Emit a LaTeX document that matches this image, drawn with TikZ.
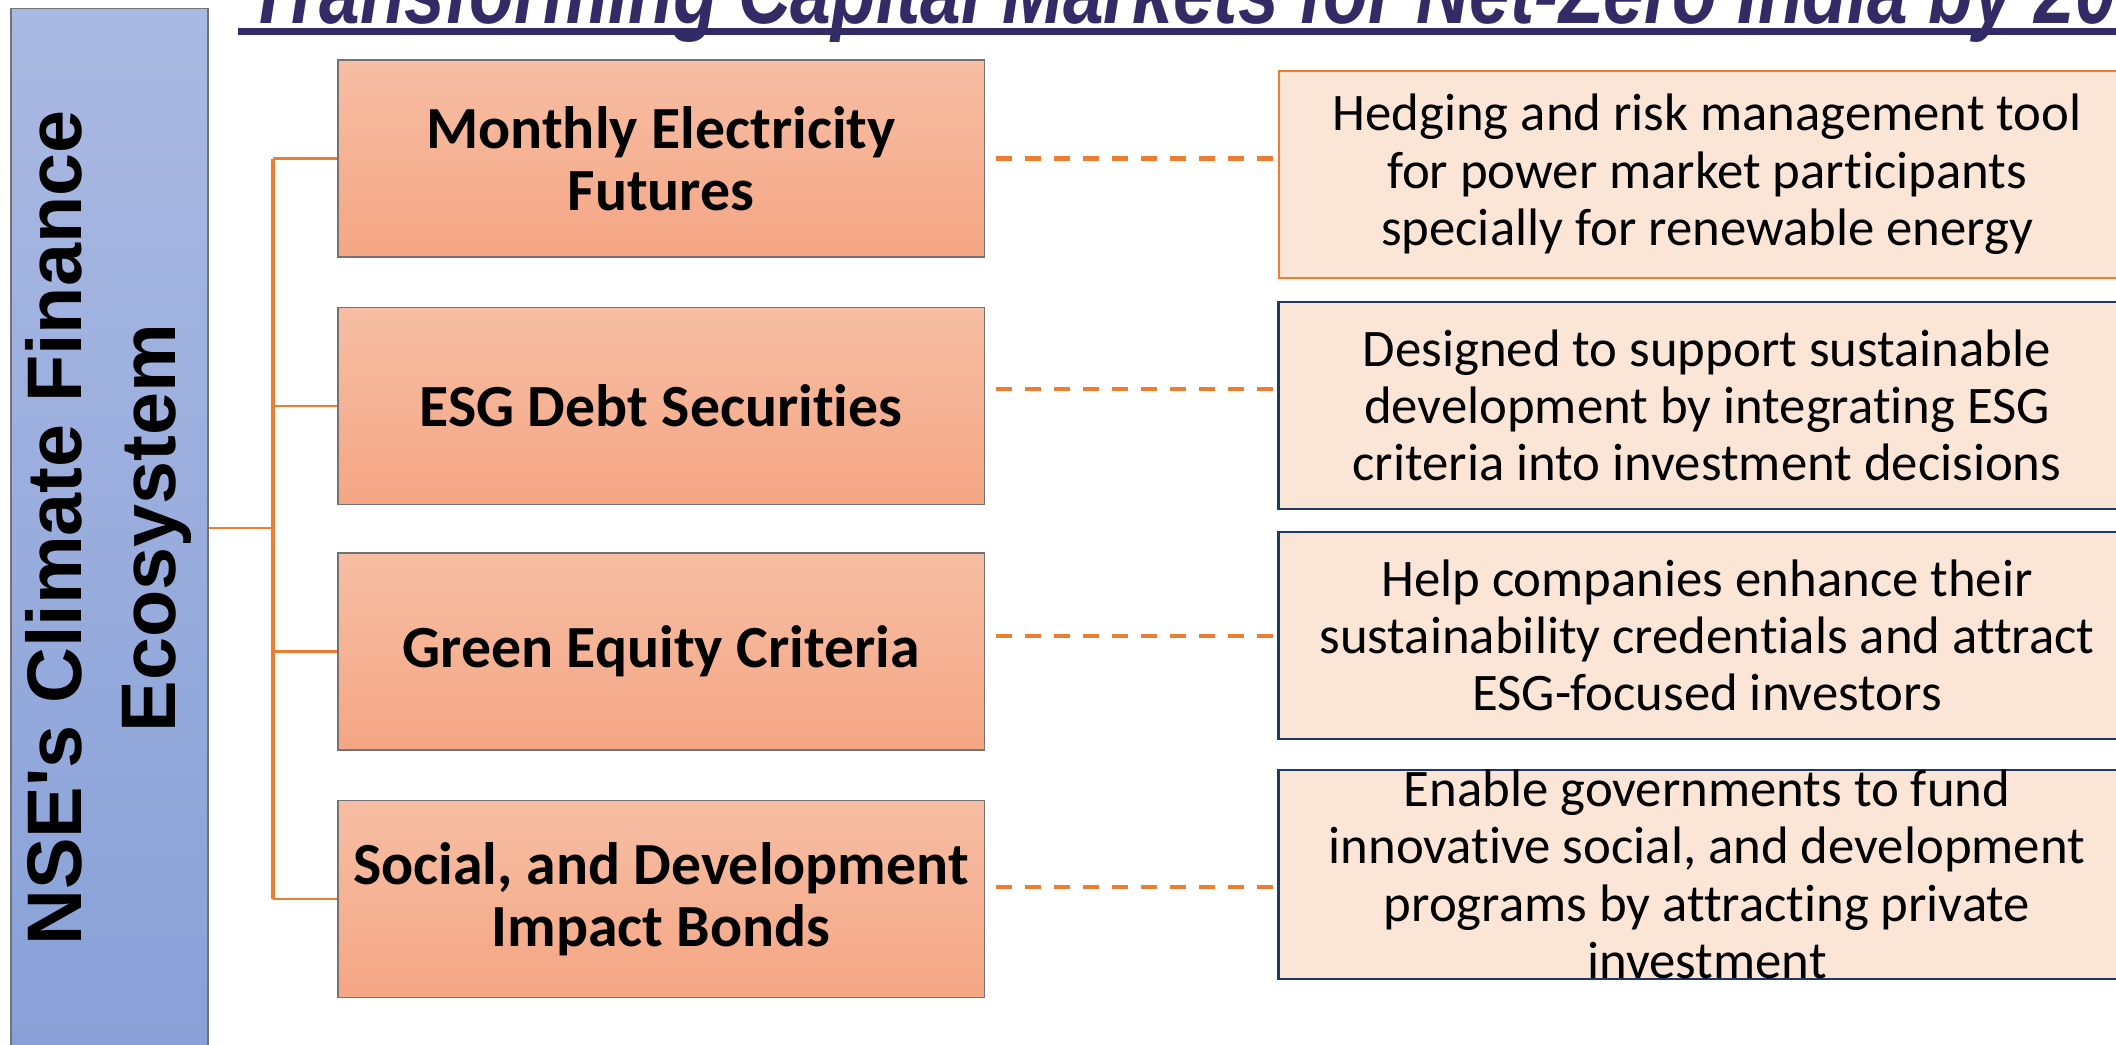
\documentclass[tikz,border=0pt]{standalone}
\usepackage{fontspec}
\usepackage{graphicx}
\setmainfont[RawFeature={-liga;-clig;-calt;-dlig}]{Carlito}
\newfontfamily\barfont{Liberation Sans}
\newfontfamily\titlefont[FakeStretch=0.8]{Liberation Sans}
\usetikzlibrary{calc}
\definecolor{linkorange}{RGB}{237,125,49}
\definecolor{boxnavy}{RGB}{31,56,100}
\definecolor{titlenavy}{RGB}{51,43,102}
\definecolor{notefill}{RGB}{251,229,214}
\definecolor{itemtop}{RGB}{246,190,164}
\definecolor{itembot}{RGB}{245,166,132}
\definecolor{bartop}{RGB}{170,185,226}
\definecolor{barbot}{RGB}{137,161,216}
\begin{document}
\begin{tikzpicture}[x=0.01cm,y=-0.01cm,
  item/.style={draw=gray!90!black,line width=0.4pt,top color=itemtop,bottom color=itembot,
    minimum width=6.46cm,minimum height=1.97cm,inner sep=0pt,align=center,
    font=\fontsize{17}{17.6}\selectfont\bfseries},
  note/.style={draw=boxnavy,line width=0.8pt,fill=notefill,
    minimum width=8.56cm,minimum height=2.07cm,inner sep=0pt,align=center,
    font=\fontsize{15}{16.3}\selectfont},
  link/.style={linkorange,line width=0.6pt},
  dashlink/.style={linkorange,line width=1.2pt,dash pattern=on 0.16cm off 0.13cm}]
\useasboundingbox (0,0) rectangle (2116,1044);
% title, cut by the top and right edge
\node[anchor=base west,inner sep=0pt,text=titlenavy,
  font=\titlefont\fontsize{26}{30}\selectfont\bfseries\itshape] (title) at (247,23)
  {Transforming Capital Markets for Net-Zero India by 2070};
\draw[titlenavy,line width=0.07cm] ([xshift=-0.09cm,yshift=-0.085cm]title.base west) -- ++(2000,0);
% left bar
\node[draw=gray!90!black,line width=0.4pt,top color=bartop,bottom color=barbot,
  minimum width=1.97cm,minimum height=10.38cm,inner sep=0pt] (eco) at (109.5,528)
  {\rotatebox{90}{\barfont\fontsize{22}{26.7}\selectfont\bfseries
   \begin{tabular}{@{}c@{}}NSE's Climate Finance\\Ecosystem\end{tabular}}};
% products
\node[item] (l1) at (661,158.5) {Monthly Electricity\\Futures};
\node[item] (l2) at (661,406) {ESG Debt Securities};
\node[item] (l3) at (661,651.5) {Green Equity Criteria};
\node[item] (l4) at (661,899) {Social, and Development\\Impact Bonds};
% descriptions
\node[note,draw=linkorange,line width=0.5pt] (r1) at (1707,174.5)
  {Hedging and risk management tool\\for power market participants\\specially for renewable energy};
\node[note] (r2) at (1707,405.5)
  {Designed to support sustainable\\development by integrating ESG\\criteria into investment decisions};
\node[note] (r3) at (1707,635.5)
  {Help companies enhance their\\sustainability credentials and attract\\ESG-focused investors};
\node[note] (r4) at (1707,874.5)
  {Enable governments to fund\\innovative social, and development\\programs by attracting private\\investment};
% tree
\coordinate (hub) at (273,528);
\draw[link] (eco.east) -- (eco.east -| hub);
\draw[link,line width=0.9pt] (hub |- l1.west) -- (hub |- l4.west);
\foreach \i in {1,...,4}
  \draw[link] (hub |- l\i.west) -- (l\i.west);
\foreach \i/\dy in {1/0,2/-17,3/-15.5,4/-12}
  \draw[dashlink] ($(l\i.east)+(11,\dy)$) -- ($(l\i.east -| r\i.west)+(0,\dy)$);
\end{tikzpicture}
\end{document}
